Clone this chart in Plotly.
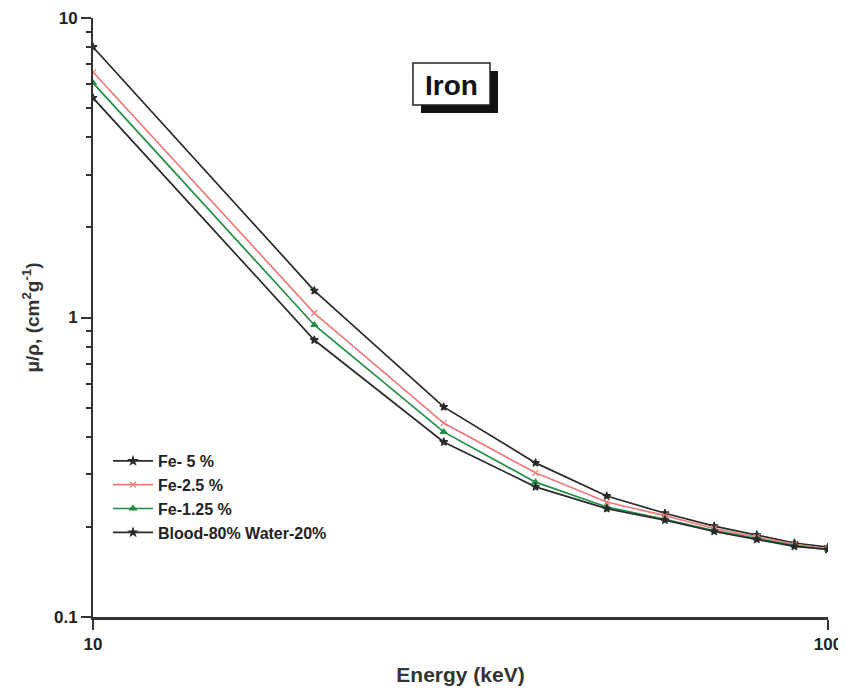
import plotly.graph_objects as go

energy = [10, 20, 30, 40, 50, 60, 70, 80, 90, 100]
fe_5 = [8.0, 1.23, 0.503, 0.327, 0.2535, 0.222, 0.201, 0.188, 0.1766, 0.171]
fe_2_5 = [6.6, 1.035, 0.444, 0.303, 0.242, 0.218, 0.1975, 0.185, 0.1747, 0.169]
fe_1_25 = [6.07, 0.944, 0.415, 0.282, 0.233, 0.212, 0.1945, 0.183, 0.173, 0.168]
blood = [5.41, 0.841, 0.384, 0.272, 0.230, 0.2105, 0.193, 0.1815, 0.172, 0.168]

names = ["Fe- 5 %", "Fe-2.5 %", "Fe-1.25 %", "Blood-80% Water-20%"]
series = [fe_5, fe_2_5, fe_1_25, blood]
colors = ["#2a2a2a", "#f07a7a", "#1f8f45", "#2a2a2a"]
symbols = ["star", "x-thin-open", "triangle-up", "star"]

fig = go.Figure()
for n, s, c, sym in zip(names, series, colors, symbols):
    fig.add_trace(go.Scatter(
        x=energy, y=s, name=n, mode="lines+markers",
        line=dict(color=c, width=1.7),
        marker=dict(symbol=sym, size=6, color=c, line=dict(color=c, width=1.2)),
    ))

# page is shown with an 8px body margin, so the figure is drawn 8px in
OFF = 8
W, H = 846 - OFF, 689 - OFF
X0, X1, Y0, Y1 = 93, 828, 18, 617   # plot area in page pixels
L, R, T, B = X0 - OFF, 846 - X1, Y0 - OFF, 689 - Y1
pw, ph = X1 - X0, Y1 - Y0

def px(x):
    return (x - X0) / pw

def py(y):
    return (Y1 - y) / ph

# title box with shadow
fig.add_shape(type="rect", xref="paper", yref="paper",
              x0=px(421), x1=px(498), y0=py(113), y1=py(71),
              fillcolor="#111", line=dict(width=0), layer="below")
fig.add_shape(type="rect", xref="paper", yref="paper",
              x0=px(413), x1=px(490), y0=py(105), y1=py(63),
              fillcolor="white", line=dict(color="#222", width=1.5), layer="below")
fig.add_annotation(x=px(451.5), y=py(85), xref="paper", yref="paper",
                   xanchor="center", yanchor="middle",
                   text="<b>Iron</b>", showarrow=False,
                   font=dict(family="Liberation Sans, Arial", size=28, color="#111"))

fig.update_layout(
    width=W, height=H,
    margin=dict(l=L, r=R, t=T, b=B),
    paper_bgcolor="white", plot_bgcolor="white",
    font=dict(family="Liberation Sans, Arial", color="#222"),
    showlegend=True,
    legend=dict(x=px(108), y=py(444), xanchor="left", yanchor="top",
                bgcolor="rgba(0,0,0,0)", font=dict(size=16, color="#222", weight="bold"),
                tracegroupgap=0, itemwidth=40),
)
fig.update_xaxes(
    type="log", range=[1, 2], tickvals=[10, 100], ticktext=["10", "100"],
    automargin=False,
    showgrid=False, zeroline=False, showline=True, linecolor="#333", linewidth=2.5,
    ticks="outside", ticklen=10, tickwidth=1.5, tickcolor="#333",
    tickfont=dict(size=17, weight="bold", color="#222"),
    title=dict(text="<b>Energy (keV)</b>", font=dict(size=21, color="#333"), standoff=15),
)
fig.update_yaxes(
    type="log", range=[-1, 1], tickvals=[0.1, 1, 10], ticktext=["0.1", "1", "10"],
    automargin=False,
    showgrid=False, zeroline=False, showline=True, linecolor="#333", linewidth=2,
    ticks="outside", ticklen=10, tickwidth=1.5, tickcolor="#333",
    minor=dict(ticks="outside", ticklen=5, tickwidth=1.5, tickcolor="#333", dtick="D1", showgrid=False),
    tickfont=dict(size=17, weight="bold", color="#222"),
    title=dict(text="<b>μ/ρ, (cm<sup>2</sup>g<sup>-1</sup>)</b>", font=dict(size=19, color="#333"), standoff=9),
)

fig.write_html("out.html")
